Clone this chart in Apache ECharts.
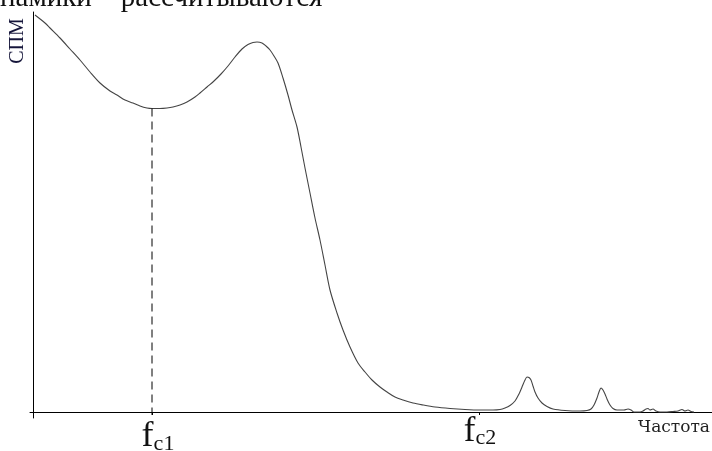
<!DOCTYPE html>
<html>
<head>
<meta charset="utf-8">
<style>
html,body{margin:0;padding:0;background:#fff;}
#chart{width:712px;height:451px;}
</style>
<script src="https://cdn.jsdelivr.net/npm/echarts@6/dist/echarts.min.js"></script>
</head>
<body>
<div id="chart"></div>
<script>
// Frequency (arbitrary units) and spectral power density (arbitrary units)
var freq = [2,12,17,27,37,47,57,67,77,84,92,100,107,114,119,127,134,140,147,154,162,167,174,181,188,195,202,209,215,220,224,229,233,237,241,245,250,255,259,264,268,272,277,282,287,292,297,304,310,317,325,332,339,347,354,362,370,380,390,402,417,432,447,460,467,472,477,482,486,489,492,494,496,498,500,502,505,509,514,520,532,547,554,558,561,564,566,568,570,572,574,577,580,584,591,595,598,601,607,610,613,615,617,620,623,627,634,640,645,649,652,655,658,661];
var spm  = [397,389,384,374,363,352,340,329,321,317,312,309,306,304,303.5,303.5,304,305,307,310,315,319,325,331,338,346,355,363,367.5,369.5,370,369,366,362,356,349,334,317,302,285,265,244,219,194,172,147,122,99,82,65,49,40,32,25,20,15,12,9,7,5,3.5,2.5,2,2,2.5,4,6.5,11,18,25,32,35,34.5,32,26,20,14,9,5.5,3,1.5,1,1.5,3,7,14,20,24,22,18,13,7,3.5,2,2,3,2,0,0,1,3,3.5,2,3,1,0,0,0.5,1,2.5,1,2,0.5,0];
// dashed marker at fc1
var fc1Line = {x: 119, yTop: 303.5, yBottom: -3};
// tick labels on the frequency axis
var tickValues = [119, 446];
var labelValues = [125, 447];
var labelTexts = ['fc1', 'fc2'];
var xName = 'Частота';
var yName = 'СПМ';
var topText = 'намики – рассчитываются';

var chart = echarts.init(document.getElementById('chart'), null, {renderer: 'canvas'});
var lineData = freq.map(function (f, i) { return [f, spm[i]]; });

chart.setOption({
  animation: false,
  backgroundColor: '#fff',
  grid: {left: 30, right: 0, top: 12, bottom: 33, containLabel: false, outerBoundsMode: 'none'},
  xAxis: {
    type: 'value', min: -3, max: 679,
    axisLine: {show: true, onZero: true, lineStyle: {color: '#000', width: 1}},
    splitLine: {show: false},
    axisTick: {show: true, customValues: tickValues, length: 3, lineStyle: {color: '#000'}},
    axisLabel: {
      show: true, customValues: labelValues, margin: 7,
      formatter: function (v) {
        var idx = labelValues.indexOf(v);
        var t = labelTexts[idx] || '';
        var k = idx === 0 ? '1' : '2';
        return '{f' + k + '|' + t.charAt(0) + '}{s' + k + '|' + t.slice(1) + '}';
      },
      rich: {
        f1: {fontFamily: 'Liberation Serif', fontSize: 36, lineHeight: 30, color: '#111', verticalAlign: 'bottom'},
        s1: {fontFamily: 'Liberation Serif', fontSize: 22, lineHeight: 15, color: '#111', verticalAlign: 'bottom'},
        f2: {fontFamily: 'Liberation Serif', fontSize: 35, lineHeight: 24, color: '#111', verticalAlign: 'bottom'},
        s2: {fontFamily: 'Liberation Serif', fontSize: 22, lineHeight: 15, color: '#111', verticalAlign: 'bottom'}
      }
    },
    name: xName, nameLocation: 'end', nameGap: -74,
    nameTextStyle: {fontFamily: 'DejaVu Serif', fontSize: 17, color: '#222', verticalAlign: 'top', align: 'left', padding: [7, 0, 0, 0]}
  },
  yAxis: {
    type: 'value', min: -6, max: 400,
    axisLine: {show: true, onZero: true, lineStyle: {color: '#000', width: 1}},
    splitLine: {show: false},
    axisTick: {show: false},
    axisLabel: {show: false}
  },
  graphic: [
    {type: 'text', x: 18, y: 41, rotation: Math.PI / 2,
     style: {text: yName, font: '20px "Liberation Serif"', fill: '#15153a', align: 'center', verticalAlign: 'middle', textAlign: 'center', textVerticalAlign: 'middle'}},
    {type: 'text', x: 0, y: -2,
     style: {text: topText, font: '29px "Liberation Serif"', fill: '#111', align: 'left', verticalAlign: 'middle', textAlign: 'left', textVerticalAlign: 'middle'}}
  ],
  series: [
    {type: 'line', data: lineData, symbol: 'none', smooth: 0.3,
     lineStyle: {color: '#444', width: 1.1}, silent: true},
    {type: 'line', data: [[fc1Line.x, fc1Line.yTop], [fc1Line.x, fc1Line.yBottom]], symbol: 'none',
     lineStyle: {color: '#000', width: 1, type: [8, 5]}, silent: true}
  ]
});
</script>
</body>
</html>
